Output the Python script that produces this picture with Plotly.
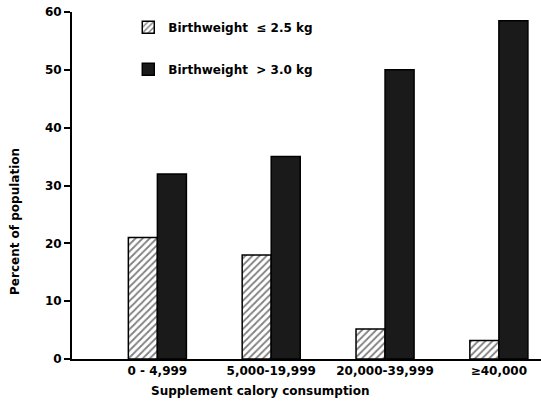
import plotly.graph_objects as go

categories = ["0 - 4,999", "5,000-19,999", "20,000-39,999", "≥40,000"]
low_bw = [21, 18, 5.2, 3.2]
high_bw = [32, 35, 50, 58.5]
series_names = ["Birthweight  ≤ 2.5 kg", "Birthweight  > 3.0 kg"]
y_ticks = [0, 10, 20, 30, 40, 50, 60]

FONT = "DejaVu Sans"
x_idx = list(range(len(categories)))

fig = go.Figure()
fig.add_trace(go.Bar(
    x=x_idx, y=low_bw, name=series_names[0], legendgroup="a",
    marker=dict(color="white", line=dict(color="black", width=1.5),
                pattern=dict(shape="/", fgcolor="black", bgcolor="white", size=5, solidity=0.35)),
))
fig.add_trace(go.Bar(
    x=x_idx, y=high_bw, name=series_names[1], legendgroup="b",
    marker=dict(color="#1a1a1a", line=dict(color="black", width=1.5)),
))

fig.update_layout(
    width=541, height=412,
    margin=dict(l=72, r=0, t=12, b=53),
    paper_bgcolor="white", plot_bgcolor="white",
    barmode="group", bargap=0.49, bargroupgap=0,
    font=dict(family=FONT, size=12, color="black", weight="bold"),
    showlegend=True,
    legend=dict(x=0.12, y=0.998, xanchor="left", yanchor="top",
                bgcolor="rgba(0,0,0,0)", tracegroupgap=23,
                font=dict(size=12, family=FONT, weight="bold")),
    xaxis=dict(range=[-0.75, 3.37], tickmode="array", tickvals=x_idx, ticktext=categories,
               showline=True, linecolor="black", linewidth=2, ticks="", showgrid=False,
               zeroline=False, tickfont=dict(size=12)),
    yaxis=dict(range=[0, 60], tickvals=y_ticks, showline=True, linecolor="black", linewidth=2,
               ticks="outside", ticklen=6, tickwidth=2, tickcolor="black", showgrid=False,
               zeroline=False, tickfont=dict(size=12)),
)

fig.add_annotation(text="Percent of population", xref="paper", yref="paper",
                   x=-0.1215, y=0.395, textangle=-90, showarrow=False,
                   xanchor="center", yanchor="middle",
                   font=dict(size=12, family=FONT, weight="bold"))
fig.add_annotation(text="Supplement calory consumption", xref="paper", yref="paper",
                   x=0.401, y=-0.092, showarrow=False, yanchor="middle",
                   font=dict(size=12, family=FONT, weight="bold"))

fig.write_html("out.html", config={"displayModeBar": False},
               post_script="document.body.style.margin='0';")
